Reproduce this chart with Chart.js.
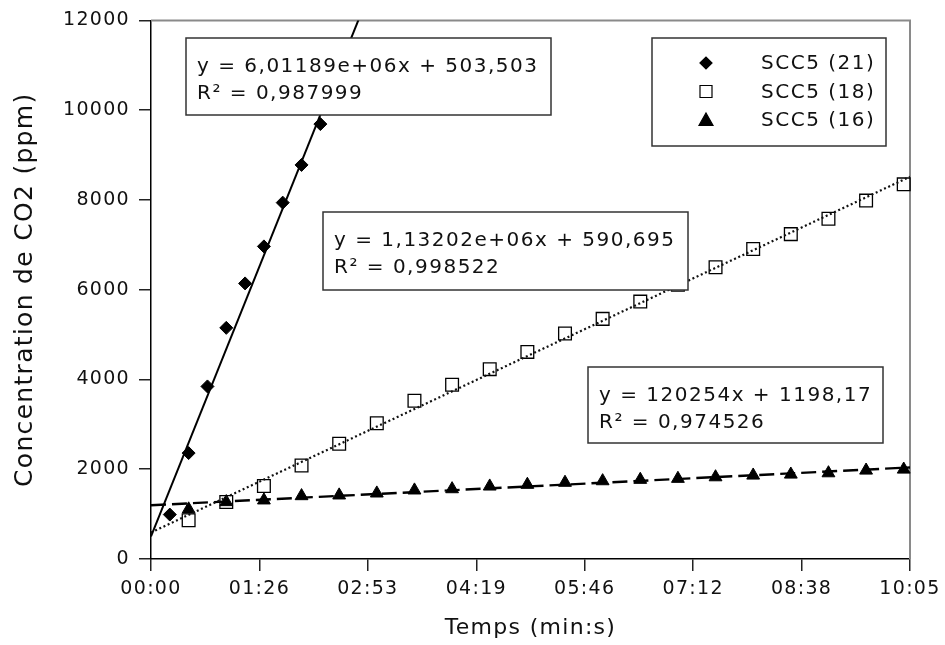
<!DOCTYPE html>
<html>
<head>
<meta charset="utf-8">
<script src="https://cdn.jsdelivr.net/npm/chart.js@4.4.1/dist/chart.umd.min.js"></script>
<style>
html,body{margin:0;padding:0;background:#fff;}
#wrap{width:945px;height:645px;}
</style>
</head>
<body>
<div id="wrap"><canvas id="c" width="945" height="645"></canvas></div>
<script>
// ---- data ----
const seriesLabels = ['SCC5 (21)', 'SCC5 (18)', 'SCC5 (16)'];
const timeSec21 = [15, 30, 45, 60, 75, 90, 105, 120, 135];
const co2_21 = [990, 2360, 3845, 5150, 6140, 6965, 7940, 8780, 9690];
const timeSec18 = [30, 60, 90, 120, 150, 180, 210, 240, 270, 300, 330, 360, 390, 420, 450, 480, 510, 540, 570, 600];
const co2_18 = [865, 1271, 1626, 2085, 2566, 3024, 3527, 3882, 4230, 4614, 5025, 5350, 5735, 6110, 6499, 6905, 7238, 7579, 7985, 8347];
const timeSec16 = [30, 60, 90, 120, 150, 180, 210, 240, 270, 300, 330, 360, 390, 420, 450, 480, 510, 540, 570, 600];
const co2_16 = [1109, 1271, 1309, 1404, 1420, 1464, 1531, 1559, 1619, 1657, 1702, 1737, 1768, 1790, 1825, 1863, 1885, 1914, 1974, 1996];
// linear trendlines (x in days, as in the spreadsheet equations)
const trendSlopePerDay = [6.01189e6, 1.13202e6, 120254];
const trendIntercept = [503.503, 590.695, 1198.17];
const trendEquation = ['y = 6,01189e+06x + 503,503', 'y = 1,13202e+06x + 590,695', 'y = 120254x + 1198,17'];
const trendR2 = ['R² = 0,987999', 'R² = 0,998522', 'R² = 0,974526'];
const xTickLabels = ['00:00', '01:26', '02:53', '04:19', '05:46', '07:12', '08:38', '10:05'];
const xMaxSec = 605;
const yTickValues = [0, 2000, 4000, 6000, 8000, 10000, 12000];

// ---- build ----
const zip = (xs, ys) => xs.map((x, i) => ({x: x, y: ys[i]}));
const trend = (k) => [0, xMaxSec].map(x => ({x: x, y: trendIntercept[k] + trendSlopePerDay[k] * x / 86400}));

Chart.defaults.font.family = '"DejaVu Sans", sans-serif';
Chart.defaults.color = '#111';

const FONT = '"DejaVu Sans", sans-serif';

const decor = {
  id: 'decor',
  beforeDraw(chart) { chart.ctx.letterSpacing = '1.3px'; },
  beforeDatasetsDraw(chart) {
    const {ctx, chartArea: a} = chart;
    ctx.save();
    ctx.strokeStyle = '#8a8a8a';
    ctx.lineWidth = 2;
    ctx.beginPath();
    ctx.moveTo(a.left, a.top);
    ctx.lineTo(a.right, a.top);
    ctx.lineTo(a.right, a.bottom);
    ctx.stroke();
    ctx.restore();
  },
  afterDatasetsDraw(chart, args, opts) {
    const ctx = chart.ctx;
    ctx.save();
    ctx.letterSpacing = '1.5px';
    // equation boxes
    opts.boxes.forEach((b, k) => {
      ctx.fillStyle = '#fff';
      ctx.fillRect(b.x, b.y, b.w, b.h);
      ctx.strokeStyle = '#333';
      ctx.lineWidth = 1.5;
      ctx.strokeRect(b.x, b.y, b.w, b.h);
      ctx.fillStyle = '#111';
      ctx.font = '20px ' + FONT;
      ctx.textBaseline = 'alphabetic';
      ctx.textAlign = 'left';
      ctx.fillText(trendEquation[k], b.x + 11, b.y + 34);
      ctx.fillText(trendR2[k], b.x + 11, b.y + 61);
    });
    // legend
    const L = opts.legend;
    ctx.fillStyle = '#fff';
    ctx.fillRect(L.x, L.y, L.w, L.h);
    ctx.strokeStyle = '#333';
    ctx.lineWidth = 1.5;
    ctx.strokeRect(L.x, L.y, L.w, L.h);
    const items = chart.data.datasets.filter(d => d.inLegend);
    items.forEach((d, i) => {
      const cy = L.y + 25 + i * 28.5;
      const cx = L.x + 54;
      ctx.beginPath();
      ctx.lineWidth = 1.2;
      ctx.strokeStyle = '#000';
      ctx.fillStyle = '#000';
      if (d.pointStyle === 'rectRot') {
        ctx.moveTo(cx - 6, cy); ctx.lineTo(cx, cy - 6); ctx.lineTo(cx + 6, cy); ctx.lineTo(cx, cy + 6); ctx.closePath();
        ctx.fill(); ctx.stroke();
      } else if (d.pointStyle === 'rect') {
        ctx.rect(cx - 6, cy - 6, 12, 12);
        ctx.stroke();
      } else {
        ctx.moveTo(cx, cy - 7); ctx.lineTo(cx + 7, cy + 5.5); ctx.lineTo(cx - 7, cy + 5.5); ctx.closePath();
        ctx.fill(); ctx.stroke();
      }
      ctx.fillStyle = '#111';
      ctx.font = '20px ' + FONT;
      ctx.textAlign = 'left';
      ctx.textBaseline = 'middle';
      ctx.fillText(d.label, L.x + 109, cy + 1);
    });
    ctx.restore();
  }
};

const axisGrid = {display: true, drawOnChartArea: false, drawTicks: true, tickLength: 12, color: '#222', lineWidth: 1.5};
const axisBorder = {display: true, color: '#000', width: 1.5};

new Chart(document.getElementById('c'), {
  type: 'scatter',
  data: {
    datasets: [
      {label: 'trend 21', data: trend(0), showLine: true, pointRadius: 0, borderColor: '#000', borderWidth: 2, clip: 0, order: 1},
      {label: 'trend 18', data: trend(1), showLine: true, pointRadius: 0, borderColor: '#111', borderWidth: 2.2, borderDash: [2, 2.6], clip: 0, order: 1},
      {label: 'trend 16', data: trend(2), showLine: true, pointRadius: 0, borderColor: '#000', borderWidth: 2.4, borderDash: [15, 6], clip: 0, order: 1},
      {label: seriesLabels[0], inLegend: true, data: zip(timeSec21, co2_21), pointStyle: 'rectRot', pointRadius: 6.5, backgroundColor: '#000', borderColor: '#000', borderWidth: 1, clip: false, order: 2},
      {label: seriesLabels[1], inLegend: true, data: zip(timeSec18, co2_18), pointStyle: 'rect', pointRadius: 9, backgroundColor: 'rgba(0,0,0,0)', borderColor: '#000', borderWidth: 1.3, clip: false, order: 2},
      {label: seriesLabels[2], inLegend: true, data: zip(timeSec16, co2_16), pointStyle: 'triangle', pointRadius: 7.4, backgroundColor: '#000', borderColor: '#000', borderWidth: 1, clip: false, order: 2}
    ]
  },
  options: {
    responsive: false,
    animation: false,
    events: [],
    devicePixelRatio: 1,
    layout: {padding: {top: 18, right: 35, left: 0, bottom: 0}},
    plugins: {
      legend: {display: false},
      tooltip: {enabled: false},
      decor: {
        boxes: [
          {x: 186, y: 38, w: 365, h: 77},
          {x: 323, y: 212, w: 365, h: 78},
          {x: 588, y: 367, w: 295, h: 76}
        ],
        legend: {x: 652, y: 38, w: 234, h: 108}
      }
    },
    scales: {
      x: {
        type: 'linear', min: 0, max: xMaxSec,
        afterBuildTicks: s => { s.ticks = xTickLabels.map((_, i) => ({value: i * xMaxSec / (xTickLabels.length - 1)})); },
        ticks: {callback: (v, i) => xTickLabels[i], autoSkip: false, maxRotation: 0, minRotation: 0, font: {size: 19}, color: '#111', padding: 7},
        grid: axisGrid,
        border: axisBorder,
        title: {display: true, text: 'Temps (min:s)', font: {size: 22}, color: '#111', padding: {top: 0, bottom: 4}},
        afterFit: s => { s.height = 86; }
      },
      y: {
        type: 'linear', min: 0, max: 12000,
        afterBuildTicks: s => { s.ticks = yTickValues.map(v => ({value: v})); },
        ticks: {callback: v => String(v), font: {size: 19}, color: '#111', padding: 9},
        grid: axisGrid,
        border: axisBorder,
        title: {display: true, text: 'Concentration de CO2 (ppm)', font: {size: 25}, color: '#111', padding: {top: 10, bottom: 0}},
        afterFit: s => { s.width = 151; }
      }
    }
  },
  plugins: [decor]
});
</script>
</body>
</html>
